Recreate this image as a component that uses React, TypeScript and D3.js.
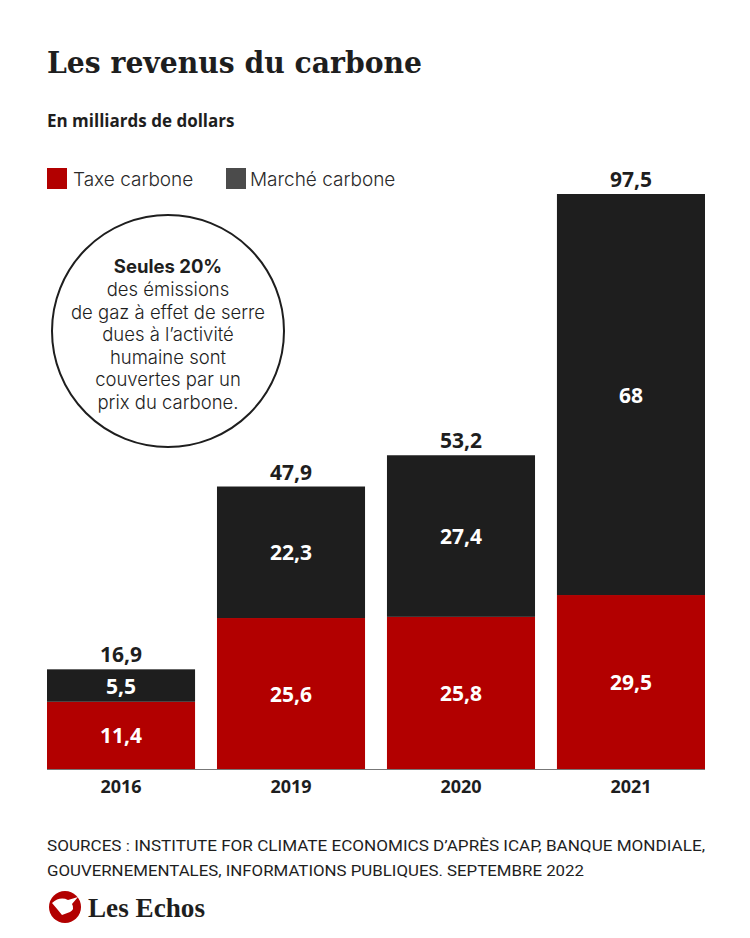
import React from "react";
import * as d3 from "d3";

const years = ["2016", "2019", "2020", "2021"];
const taxe = [11.4, 25.6, 25.8, 29.5];
const marche = [5.5, 22.3, 27.4, 68];
const totals = [16.9, 47.9, 53.2, 97.5];
const legendItems = ["Taxe carbone", "Marché carbone"];
const circleLines = [
  "des émissions",
  "de gaz à effet de serre",
  "dues à l’activité",
  "humaine sont",
  "couvertes par un",
  "prix du carbone.",
];
const sourceLines = [
  "SOURCES : INSTITUTE FOR  CLIMATE ECONOMICS D’APRÈS ICAP, BANQUE MONDIALE,",
  "GOUVERNEMENTALES, INFORMATIONS PUBLIQUES. SEPTEMBRE 2022",
];

const fmt = (v: number) => String(v).replace(".", ",");

const RED = "#b20000";
const BLACK = "#1e1e1e";
const LEG_GRAY = "#4b4b4b";
const SANS = "'Open Sans', 'Noto Sans', sans-serif";
const LIGHT = "Inter, 'Open Sans', sans-serif";

export default function App() {
  const W = 750, H = 938;
  const x = d3.scaleBand<string>().domain(years).range([47, 705]).paddingInner(0.129).paddingOuter(0);
  const y = d3.scaleLinear().domain([0, 97.5]).range([769, 194]);
  const bw = x.bandwidth();

  return (
    <div>
      <style>{`body{margin:0}`}</style>
      <svg width={W} height={H} style={{ display: "block", background: "#fff" }}>
        <text x={47} y={73} fontFamily="'DejaVu Serif', serif" fontWeight={700} fontSize={30} fill="#1e1e1e"
          textLength={375} lengthAdjust="spacingAndGlyphs">Les revenus du carbone</text>
        <text x={47} y={127} fontFamily={SANS} fontWeight={700} fontSize={17} fill="#1e1e1e">En milliards de dollars</text>

        {/* legend */}
        <rect x={47} y={168} width={20} height={21} fill={RED} />
        <text x={73} y={186} fontFamily={LIGHT} fontWeight={300} fontSize={19} fill="#2a2a2a">{legendItems[0]}</text>
        <rect x={226} y={168} width={20} height={21} fill={LEG_GRAY} />
        <text x={250} y={186} fontFamily={LIGHT} fontWeight={300} fontSize={19} fill="#2a2a2a">{legendItems[1]}</text>

        {/* bars */}
        {years.map((yr, i) => {
          const x0 = x(yr)!;
          const cx = x0 + bw / 2;
          const yRedTop = y(taxe[i]);
          const yTop = y(taxe[i] + marche[i]);
          return (
            <g key={yr}>
              <rect x={x0} y={yRedTop} width={bw} height={y(0) - yRedTop} fill={RED} />
              <rect x={x0} y={yTop} width={bw} height={yRedTop - yTop} fill={BLACK} />
              <text x={cx} y={(y(0) + yRedTop) / 2 + 8} textAnchor="middle" fontFamily={SANS} fontWeight={700} fontSize={21} fill="#fff">{fmt(taxe[i])}</text>
              <text x={cx} y={(yRedTop + yTop) / 2 + 8} textAnchor="middle" fontFamily={SANS} fontWeight={700} fontSize={21} fill="#fff">{fmt(marche[i])}</text>
              <text x={cx} y={y(totals[i]) - 7} textAnchor="middle" fontFamily={SANS} fontWeight={700} fontSize={21} fill="#1e1e1e">{fmt(totals[i])}</text>
              <text x={cx} y={793} textAnchor="middle" fontFamily={SANS} fontWeight={700} fontSize={18} fill="#1e1e1e">{yr}</text>
            </g>
          );
        })}
        <line x1={47} x2={705} y1={769.5} y2={769.5} stroke="#777" strokeWidth={1} />

        {/* circle note */}
        <circle cx={168} cy={331} r={116} fill="#fff" stroke="#1e1e1e" strokeWidth={2} />
        <text x={168} y={273} textAnchor="middle" fontFamily={LIGHT} fontWeight={700} fontSize={18.5} fill="#1e1e1e">Seules 20%</text>
        {circleLines.map((l, i) => (
          <text key={i} x={168} y={296 + i * 22.6} textAnchor="middle" fontFamily={LIGHT} fontWeight={300} fontSize={18.5} fill="#1e1e1e">{l}</text>
        ))}

        {/* sources */}
        {sourceLines.map((l, i) => (
          <text key={i} x={47} y={851 + i * 25} fontFamily="Roboto, sans-serif" fontSize={15} fill="#1e1e1e"
            textLength={i === 0 ? 658 : 537} lengthAdjust="spacingAndGlyphs">{l}</text>
        ))}

        {/* logo */}
        <circle cx={65} cy={907} r={16} fill={RED} />
        <path d="M52 903 Q60 896 68 900 L78 897 L72 904 Q75 909 70 912 L62 915 Q58 910 52 903 Z" fill="#fff" />
        <text x={88} y={917} fontFamily="'Liberation Serif', serif" fontWeight={700} fontSize={28} fill="#1e1e1e"
          textLength={117} lengthAdjust="spacingAndGlyphs">Les Echos</text>
      </svg>
    </div>
  );
}
